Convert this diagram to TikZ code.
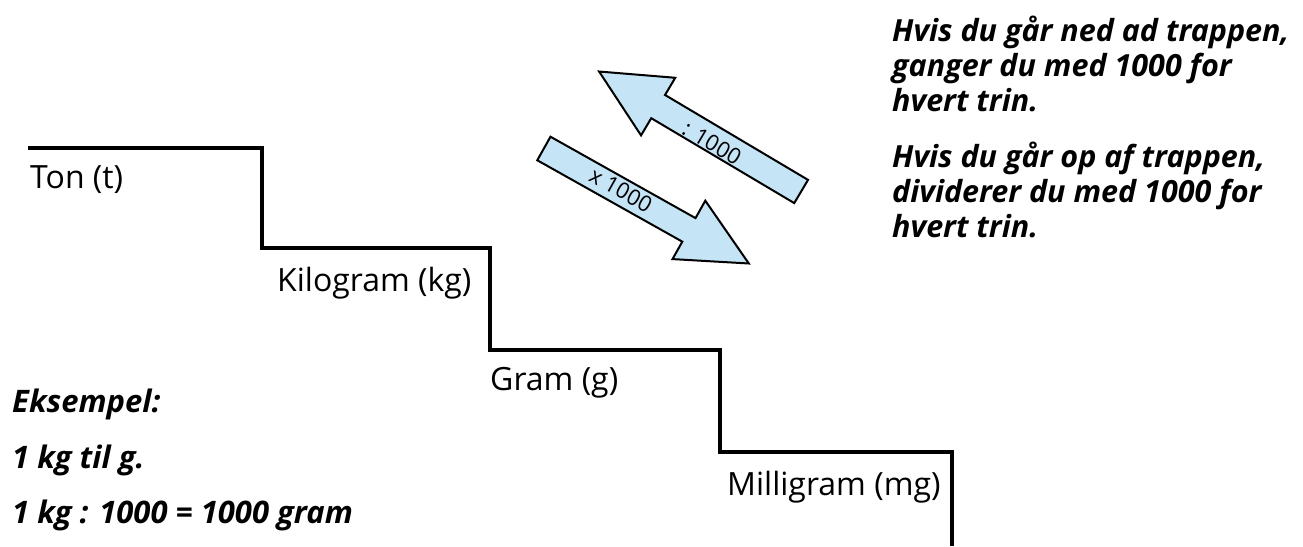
\documentclass[tikz,border=0pt]{standalone}
\usepackage{fontspec}
\setmainfont{Open Sans}
\usetikzlibrary{shapes.arrows}
\usetikzlibrary{positioning}
\definecolor{arrowblue}{RGB}{197,228,246}
\tikzset{
	step_label/.style = {
		font=\fontsize{32}{38}\selectfont,
		inner sep=0pt,
		anchor=west
	},
	info_text/.style = {
		font=\fontsize{30.5}{35}\selectfont\bfseries\itshape,
		inner sep=0pt,
		align=left,
		anchor=north west
	},
	example_text/.style = {
		font=\fontsize{31}{36}\selectfont\bfseries\itshape,
		inner sep=0pt,
		anchor=base west
	},
	arrow_big/.style = {
		single arrow,
		draw=black,
		line width=2pt,
		fill=arrowblue,
		inner xsep=0pt,
		inner ysep=12.5pt,
		single arrow head extend=20pt,
		single arrow tip angle=52,
		minimum height=235pt,
		anchor=tail
	},
	arrow_text/.style = {
		font=\fontsize{22}{24}\selectfont,
		inner sep=0pt
	},
	stair/.style = {
		line width=4pt,
		line join=miter
	}
}
\begin{document}
\begin{tikzpicture}[x=1pt,y=-1pt]
\useasboundingbox (0,0) rectangle (1303,546);
\draw [stair] (28,148) -| (262,248) -| (490,350) -| (720,452) -| (952,546);
\node [step_label] (ton) at (30,180) {Ton (t)};
\node [step_label] (kilo) at (277,283) {Kilogram (kg)};
\node [step_label] (gram) at (490,383) {Gram (g)};
\node [step_label] (milli) at (727,487) {Milligram (mg)};
\node [arrow_big, rotate=149.3] (arrow_up) at (802,192) {};
\node [arrow_big, rotate=-29.3] (arrow_down) at (543,148) {};
\node [arrow_text, rotate=-30.7] (div_text) at (712,143) {: 1000};
\node [arrow_text, rotate=-29.3] (mul_text) at (621,190) {x 1000};
\node [info_text] (down_info) at (892,16) {Hvis du går ned ad trappen,\\ganger du med 1000 for\\hvert trin.};
\node [info_text] (up_info) at (892,142) {Hvis du går op af trappen,\\dividerer du med 1000 for\\hvert trin.};
\node [example_text] (ex_head) at (12,412) {Eksempel:};
\node [example_text] (ex_task) at (12,468) {1 kg til g.};
\node [example_text] (ex_calc) at (12,523) {1 kg : 1000 = 1000 gram};
\end{tikzpicture}
\end{document}
